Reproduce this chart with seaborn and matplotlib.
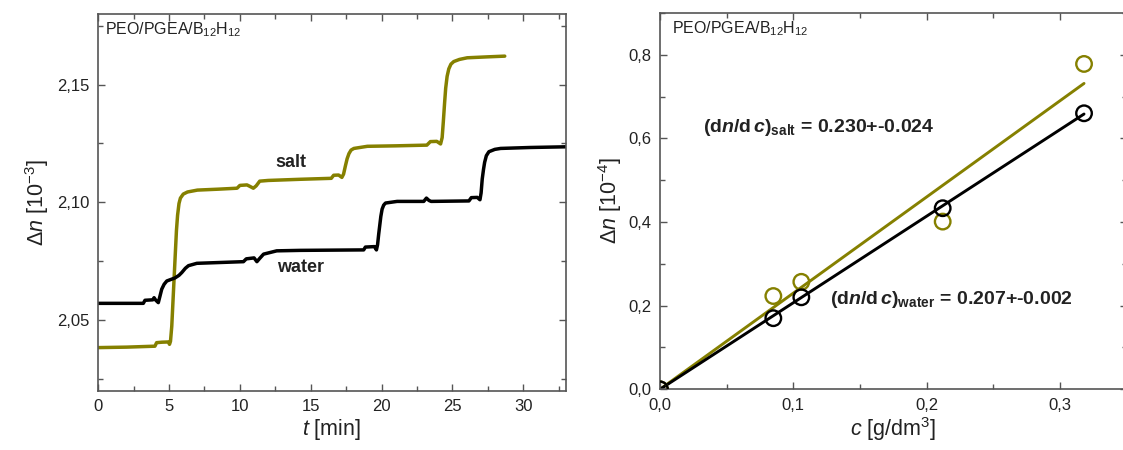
import numpy as np
import pandas as pd
import matplotlib
matplotlib.use("Agg")
import matplotlib.pyplot as plt
import seaborn as sns
from matplotlib.ticker import FixedLocator, FixedFormatter, MultipleLocator

# ---------------- data: left panel (time traces) ----------------
salt_t = [0, 2.0, 4.0, 4.12, 4.5, 4.95, 5.03, 5.1, 5.19, 5.3, 5.42, 5.52, 5.6, 5.7, 5.8,
          6.0, 6.3, 7.0, 8.5, 9.8, 10.0, 10.5, 10.7, 10.95, 11.15, 11.4, 12.0, 14.3,
          16.45, 16.62, 16.97, 17.2, 17.32, 17.45, 17.57, 17.7, 17.85, 18.05, 19.0, 21.0,
          23.2, 23.45, 23.9, 24.17, 24.28, 24.36, 24.45, 24.53, 24.63, 24.75, 24.9, 25.1,
          25.5, 26.05, 27.5, 28.7]
salt_n = [2.0383, 2.0385, 2.0389, 2.0404, 2.0406, 2.0407, 2.0397, 2.0410, 2.0474, 2.0610,
          2.0758, 2.0880, 2.0945, 2.0995, 2.1018, 2.1035, 2.1044, 2.1052, 2.1056, 2.1060,
          2.1072, 2.1074, 2.1068, 2.1060, 2.1070, 2.1090, 2.1093, 2.1098, 2.1102, 2.1115,
          2.1116, 2.1106, 2.1120, 2.1155, 2.1185, 2.1207, 2.1222, 2.1229, 2.1238, 2.1240,
          2.1243, 2.1258, 2.1259, 2.1248, 2.1275, 2.1340, 2.1420, 2.1485, 2.1535, 2.1567,
          2.1587, 2.1598, 2.1607, 2.1614, 2.1618, 2.1621]

water_t = [0, 3.18, 3.3, 3.85, 3.94, 4.05, 4.24, 4.35, 4.48, 4.65, 4.84, 5.42, 5.7, 5.9,
           6.15, 6.37, 6.96, 10.25, 10.45, 11.0, 11.2, 11.4, 11.67, 12.6, 14.26, 18.74,
           18.86, 19.5, 19.64, 19.72, 19.8, 19.87, 19.95, 20.04, 20.15, 20.28, 21.1, 22.98,
           23.17, 23.35, 23.5, 26.17, 26.34, 26.76, 26.95, 27.03, 27.11, 27.2, 27.28, 27.4,
           27.58, 28.0, 28.41, 30.5, 33.1]
water_n = [2.0571, 2.0571, 2.0584, 2.0586, 2.0595, 2.0585, 2.0574, 2.0600, 2.0631, 2.0652,
           2.0666, 2.0679, 2.0690, 2.0702, 2.0720, 2.0731, 2.0741, 2.0748, 2.0760, 2.0764,
           2.0748, 2.0762, 2.0780, 2.0794, 2.0796, 2.0798, 2.0810, 2.0812, 2.0798, 2.0820,
           2.0865, 2.0900, 2.0940, 2.0971, 2.0988, 2.0997, 2.1004, 2.1004, 2.1018, 2.1008,
           2.1004, 2.1006, 2.1020, 2.1021, 2.1011, 2.1040, 2.1099, 2.1140, 2.1170, 2.1198,
           2.1215, 2.1225, 2.1229, 2.1233, 2.1236]

# ---------------- data: right panel (dn/dc) ----------------
conc = [0.0, 0.085, 0.106, 0.212, 0.318]
dn_water = [0.0, 0.170, 0.220, 0.433, 0.660]
dn_salt = [0.0, 0.223, 0.257, 0.401, 0.778]
slope_water = 2.07
slope_salt = 2.30

# ticks
left_xticks = [0, 5, 10, 15, 20, 25, 30]
left_xlabels = ["0", "5", "10", "15", "20", "25", "30"]
left_yticks = [2.05, 2.10, 2.15]
left_ylabels = ["2,05", "2,10", "2,15"]
right_xticks = [0.0, 0.1, 0.2, 0.3]
right_xlabels = ["0,0", "0,1", "0,2", "0,3"]
right_yticks = [0.0, 0.2, 0.4, 0.6, 0.8]
right_ylabels = ["0,0", "0,2", "0,4", "0,6", "0,8"]

OLIVE = "#858000"
BLACK = "#000000"
SPINE = "#555555"
TXT = "#222222"

sns.set_style("ticks")
plt.rcParams.update({
    "font.family": ["Liberation Sans", "DejaVu Sans"],
    "mathtext.fontset": "custom",
    "mathtext.rm": "Liberation Sans",
    "mathtext.it": "Liberation Sans:italic",
    "mathtext.bf": "Liberation Sans:bold",
    "mathtext.bfit": "Liberation Sans:bold:italic",
    "mathtext.sf": "Liberation Sans",
    "text.color": TXT,
    "axes.labelcolor": TXT,
    "xtick.color": SPINE,
    "ytick.color": SPINE,
    "xtick.labelcolor": TXT,
    "ytick.labelcolor": TXT,
})

fig = plt.figure(figsize=(11.23, 4.5), dpi=100)
axL = fig.add_axes([0.0875, 0.1318, 0.4162, 0.8371])
axR = fig.add_axes([0.5877, 0.1349, 0.4156, 0.8364])

# ---- left panel ----
sns.lineplot(x=salt_t, y=salt_n, ax=axL, color=OLIVE, lw=2.5, estimator=None, sort=False)
sns.lineplot(x=water_t, y=water_n, ax=axL, color=BLACK, lw=2.5, estimator=None, sort=False)
axL.set_xlim(0, 33)
axL.set_ylim(2.02, 2.18)
axL.xaxis.set_major_locator(FixedLocator(left_xticks))
axL.xaxis.set_major_formatter(FixedFormatter(left_xlabels))
axL.xaxis.set_minor_locator(MultipleLocator(2.5))
axL.yaxis.set_major_locator(FixedLocator(left_yticks))
axL.yaxis.set_major_formatter(FixedFormatter(left_ylabels))
axL.yaxis.set_minor_locator(MultipleLocator(0.025))
axL.set_xlabel("$t$ [min]", fontsize=15.5, labelpad=2)
axL.set_ylabel("Δ$n$ [10$^{-3}$]", fontsize=15.5, labelpad=5)
axL.text(0.015, 0.982, "PEO/PGEA/B$_{12}$H$_{12}$", transform=axL.transAxes,
         ha="left", va="top", fontsize=11.5)
axL.text(13.6, 2.1171, "salt", ha="center", va="center", fontsize=13, fontweight="bold")
axL.text(14.26, 2.0724, "water", ha="center", va="center", fontsize=13, fontweight="bold")

# ---- right panel ----
fit_x = np.array([conc[0], conc[-1]])
sns.lineplot(x=fit_x, y=slope_salt * fit_x, ax=axR, color=OLIVE, lw=2.1)
sns.lineplot(x=fit_x, y=slope_water * fit_x, ax=axR, color=BLACK, lw=2.1)
sns.scatterplot(x=conc, y=dn_salt, ax=axR, marker="o", s=125, facecolors="none",
                edgecolor=OLIVE, linewidth=1.7, zorder=3)
sns.scatterplot(x=conc, y=dn_water, ax=axR, marker="o", s=125, facecolors="none",
                edgecolor=BLACK, linewidth=1.7, zorder=3)
axR.set_xlim(0, 0.35)
axR.set_ylim(0, 0.9)
axR.xaxis.set_major_locator(FixedLocator(right_xticks))
axR.xaxis.set_major_formatter(FixedFormatter(right_xlabels))
axR.xaxis.set_minor_locator(MultipleLocator(0.05))
axR.yaxis.set_major_locator(FixedLocator(right_yticks))
axR.yaxis.set_major_formatter(FixedFormatter(right_ylabels))
axR.yaxis.set_minor_locator(MultipleLocator(0.1))
axR.set_xlabel("$c$ [g/dm$^3$]", fontsize=15.5, labelpad=2)
axR.set_ylabel("Δ$n$ [10$^{-4}$]", fontsize=15.5, labelpad=3)
axR.text(0.026, 0.982, "PEO/PGEA/B$_{12}$H$_{12}$", transform=axR.transAxes,
         ha="left", va="top", fontsize=11.5)
axR.text(0.0321, 0.626,
         r"$\mathbf{(d}\mathbfit{n}\mathbf{/d}\,\mathbfit{c}\mathbf{)}_\mathbf{salt}$ = 0.230+-0.024",
         ha="left", va="center", fontsize=14, fontweight="bold")
axR.text(0.1275, 0.2136,
         r"$\mathbf{(d}\mathbfit{n}\mathbf{/d}\,\mathbfit{c}\mathbf{)}_\mathbf{water}$ = 0.207+-0.002",
         ha="left", va="center", fontsize=14, fontweight="bold")

for ax in (axL, axR):
    ax.tick_params(which="both", direction="in", top=True, right=True,
                   labeltop=False, labelright=False, labelsize=12, pad=6)
    ax.tick_params(which="major", length=5, width=1.0)
    ax.tick_params(which="minor", length=3.5, width=1.0)
    for sp in ax.spines.values():
        sp.set_visible(True)
        sp.set_color(SPINE)
        sp.set_linewidth(1.2)

fig.savefig("out.png", dpi=100)
